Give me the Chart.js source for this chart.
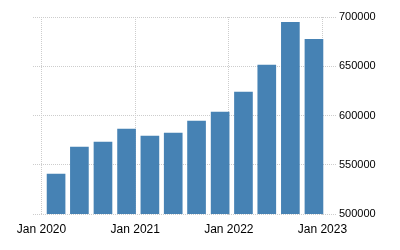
<!DOCTYPE html>
<html>
<head>
<meta charset="utf-8">
<script src="https://cdn.jsdelivr.net/npm/chart.js@4/dist/chart.umd.min.js"></script>
<style>
  html, body { margin: 0; padding: 0; background: #fff; }
  #wrap { width: 400px; height: 250px; }
</style>
</head>
<body>
<div id="wrap"><canvas id="chart"></canvas></div>
<script>
// quarterly observations (dates as plotted on the time axis)
const periods = ['2020-02-27', '2020-05-28', '2020-08-28', '2020-11-28',
                 '2021-02-27', '2021-05-29', '2021-08-28', '2021-11-28',
                 '2022-02-27', '2022-05-29', '2022-08-29', '2022-11-29'];
const values = [540900, 568200, 573300, 586500, 579400, 582400,
                594600, 603700, 624000, 651400, 695000, 677700];
const yearTicks = ['2020-01-01', '2021-01-01', '2022-01-01', '2023-01-01'];
const xRange = ['2019-11-29', '2023-02-23'];
const yTicks = [500000, 550000, 600000, 650000, 700000];

const gridColor = '#cdcdcd';
const font = { family: "'Liberation Sans', Arial, sans-serif", size: 11 };

new Chart(document.getElementById('chart'), {
    type: 'bar',
    data: {
        datasets: [{
            data: periods.map((d, i) => ({ x: Date.parse(d), y: values[i] })),
            backgroundColor: '#4682b4',
            barPercentage: 0.8,
            categoryPercentage: 1.0
        }]
    },
    options: {
        responsive: true,
        maintainAspectRatio: false,
        animation: false,
        layout: { padding: { left: 33, right: 0, top: 17, bottom: 0 } },
        plugins: { legend: { display: false }, tooltip: { enabled: false } },
        scales: {
            x: {
                type: 'linear',
                offset: false,
                min: Date.parse(xRange[0]),
                max: Date.parse(xRange[1]),
                afterBuildTicks: axis => {
                    axis.ticks = yearTicks.map(d => ({ value: Date.parse(d) }));
                },
                afterFit: axis => { axis.height = 36; },
                grid: {
                    offset: false,
                    color: gridColor,
                    tickBorderDash: [1, 1],
                    tickLength: 2
                },
                border: { display: false, dash: [1, 1] },
                ticks: {
                    autoSkip: false,
                    maxRotation: 0,
                    padding: 6,
                    color: '#000',
                    font: { family: font.family, size: 12 },
                    callback: v => 'Jan ' + new Date(v).getUTCFullYear()
                }
            },
            y: {
                position: 'right',
                min: 500000,
                max: 700000,
                afterBuildTicks: axis => {
                    axis.ticks = yTicks.map(v => ({ value: v }));
                },
                afterFit: axis => { axis.width = 64; },
                grid: {
                    color: gridColor,
                    drawTicks: false
                },
                border: { display: false, dash: [1, 1] },
                ticks: {
                    padding: 3,
                    color: '#000',
                    font: font,
                    callback: v => String(v)
                }
            }
        }
    }
});
</script>
</body>
</html>
